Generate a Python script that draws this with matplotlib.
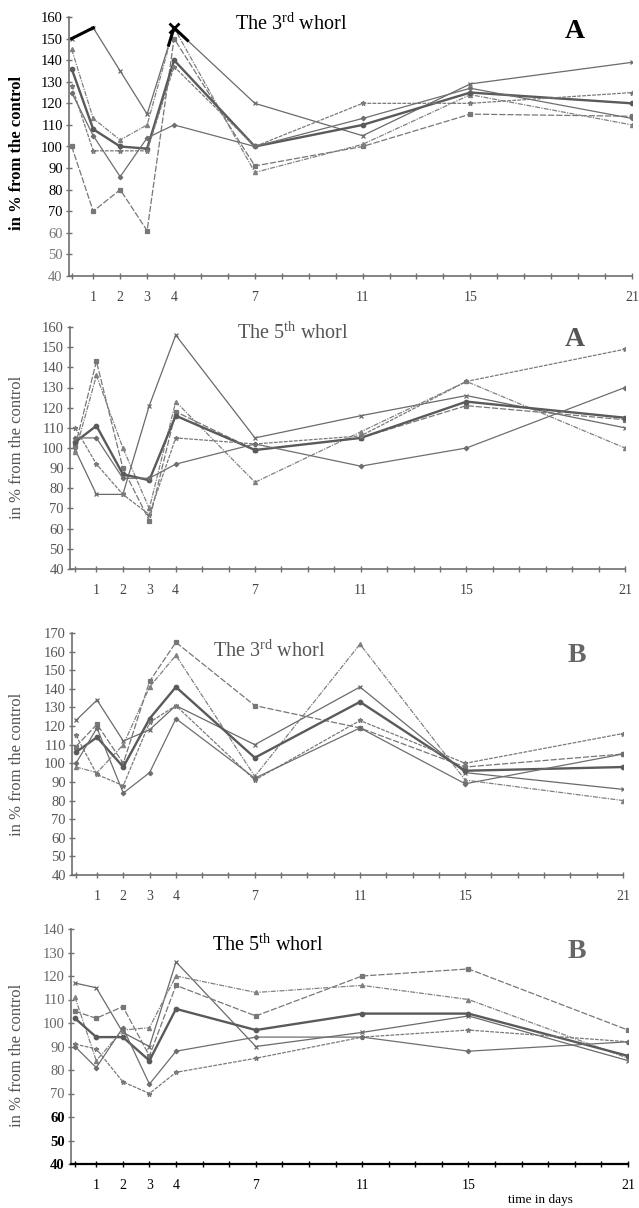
import numpy as np
import matplotlib
matplotlib.use("Agg")
import matplotlib.pyplot as plt
from matplotlib.ticker import FixedLocator, FixedFormatter

plt.rcParams['font.family'] = ['Liberation Serif', 'DejaVu Serif']
plt.rcParams['mathtext.fontset'] = 'custom'
plt.rcParams['mathtext.rm'] = 'Liberation Serif'

days = [0.2, 1, 2, 3, 4, 7, 11, 15, 21]
day_labels = [1, 2, 3, 4, 7, 11, 15, 21]

# panel A, 3rd whorl
a3_1 = [150, 155, 135, 115, 155, 120, 105, 129, 139]
a3_2 = [100, 70, 80, 61, 150, 91, 100, 115, 114]
a3_3 = [145, 113, 103, 110, 155, 88, 101, 124, 110]
a3_4 = [136, 108, 100, 99, 140, 100, 110, 125, 120]
a3_5 = [128, 98, 98, 98, 137, 100, 120, 120, 125]
a3_6 = [125, 105, 86, 104, 110, 100, 113, 127, 113]

# panel A, 5th whorl
a5_1 = [99, 77, 77, 121, 156, 105, 116, 126, 110]
a5_2 = [101, 143, 90, 64, 118, 99, 105, 121, 114]
a5_3 = [98, 136, 100, 70, 123, 83, 108, 133, 100]
a5_4 = [103, 111, 87, 84, 116, 99, 105, 123, 115]
a5_5 = [110, 92, 77, 67, 105, 102, 106, 133, 149]
a5_6 = [105, 105, 85, 85, 92, 102, 91, 100, 130]

# panel B, 3rd whorl
b3_1 = [123, 134, 112, 118, 131, 110, 141, 95, 86]
b3_2 = [109, 121, 100, 144, 165, 131, 119, 98, 105]
b3_3 = [98, 95, 110, 141, 158, 93, 164, 91, 80]
b3_4 = [106, 114, 98, 124, 141, 103, 133, 96, 98]
b3_5 = [115, 94, 88, 122, 131, 91, 123, 100, 116]
b3_6 = [100, 119, 84, 95, 124, 92, 119, 89, 105]

# panel B, 5th whorl
b5_1 = [117, 115, 96, 90, 126, 90, 96, 103, 84]
b5_2 = [105, 102, 107, 86, 116, 103, 120, 123, 97]
b5_3 = [111, 84, 97, 98, 120, 113, 116, 110, 85]
b5_4 = [102, 94, 94, 84, 106, 97, 104, 104, 86]
b5_5 = [91, 89, 75, 70, 79, 85, 94, 97, 92]
b5_6 = [90, 81, 98, 74, 88, 94, 94, 88, 92]

W, H = 639, 1208


def px_rect(left, top, right, bottom):
    return [left / W, 1 - bottom / H, (right - left) / W, (bottom - top) / H]


def fig_xy(x, y):
    return x / W, 1 - y / H


styles = [
    dict(marker='x', ls='-', lw=0.9, color='#6a6a6a', ms=3.5),
    dict(marker='s', ls=(0, (5, 1.5)), lw=0.9, color='#777777', ms=2.8),
    dict(marker='^', ls=(0, (4, 1, 1, 1)), lw=0.9, color='#808080', ms=3),
    dict(marker='o', ls='-', lw=1.7, color='#5a5a5a', ms=3.2),
    dict(marker='*', ls=(0, (3, 1)), lw=0.9, color='#7a7a7a', ms=3.5),
    dict(marker='D', ls='-', lw=0.9, color='#6e6e6e', ms=2.3),
]

panels = [
    dict(series=[a3_1, a3_2, a3_3, a3_4, a3_5, a3_6], rect=(69, 17, 632, 276),
         xlim=(0.1, 21), ylim=(40, 160), title="The 3$^{\\mathrm{rd}}$ whorl",
         title_xy=(235, 24), title_col='black', letter='A', letter_xy=(575, 32),
         letter_col='black', ylab_y=153, ylab_col='black'),
    dict(series=[a5_1, a5_2, a5_3, a5_4, a5_5, a5_6], rect=(70, 327, 625, 569),
         xlim=(0.0, 21), ylim=(40, 160), title="The 5$^{\\mathrm{th}}$ whorl",
         title_xy=(237, 333), title_col='#555555', letter='A', letter_xy=(575, 340),
         letter_col='#555555', ylab_y=447, ylab_col='#555555'),
    dict(series=[b3_1, b3_2, b3_3, b3_4, b3_5, b3_6], rect=(72, 633, 623, 875),
         xlim=(0.05, 21), ylim=(40, 170), title="The 3$^{\\mathrm{rd}}$ whorl",
         title_xy=(213, 651), title_col='#555555', letter='B', letter_xy=(577, 656),
         letter_col='#666666', ylab_y=764, ylab_col='#555555'),
    dict(series=[b5_1, b5_2, b5_3, b5_4, b5_5, b5_6], rect=(71, 929, 628, 1164),
         xlim=(0.05, 21), ylim=(40, 140), title="The 5$^{\\mathrm{th}}$ whorl",
         title_xy=(212, 945), title_col='black', letter='B', letter_xy=(577, 952),
         letter_col='#666666', ylab_y=1055, ylab_col='#555555'),
]

fig = plt.figure(figsize=(W / 100, H / 100), dpi=100)

for i, p in enumerate(panels):
    ax = fig.add_axes(px_rect(*p['rect']))
    for s, st in zip(p['series'], styles):
        ax.plot(days, s, markeredgewidth=0.9, **st)

    if i == 0:
        # dark overprint at the clipped peaks
        first = p['series'][0]
        ax.plot(days[:2], first[:2], color='black', lw=2.2)
        xs = np.linspace(3.8, 4.5, 10)
        ax.plot(xs, np.interp(xs, days, first), color='black', lw=2.2)
        ax.plot(days[4], first[4], marker='x', color='black', ms=7, mew=2)

    ax.set_xlim(*p['xlim'])
    ax.set_ylim(*p['ylim'])
    for side in ['top', 'right']:
        ax.spines[side].set_visible(False)
    spine_col = 'black' if i == 3 else '#707070'
    ax.spines['bottom'].set_color(spine_col)
    ax.spines['left'].set_color('#707070')
    ax.spines['bottom'].set_linewidth(1.6 if i == 3 else 1.2)
    ax.spines['left'].set_linewidth(1.2)

    xt = [days[0]] + list(range(1, 22))
    xl = [str(t) if t in day_labels else '' for t in xt]
    xl[0] = ''
    ax.xaxis.set_major_locator(FixedLocator(xt))
    ax.xaxis.set_major_formatter(FixedFormatter(xl))
    ax.tick_params(axis='x', direction='inout', length=5, width=1.0,
                   color=spine_col, labelsize=10, pad=8,
                   labelcolor='black' if i == 3 else '#444444')
    yt = list(range(p['ylim'][0], p['ylim'][1] + 1, 10))
    ax.set_yticks(yt)
    ax.tick_params(axis='y', direction='inout', length=5, width=1.0,
                   color='#707070', labelsize=10.5, pad=2)
    for lab, v in zip(ax.get_yticklabels(), yt):
        if i == 0:
            lab.set_color('black' if v >= 70 else '#777777')
        elif i == 3:
            lab.set_color('black' if v <= 60 else '#666666')
            if v <= 60:
                lab.set_fontweight('bold')
        else:
            lab.set_color('#555555')
    ax.patch.set_alpha(0)

    tx, ty = fig_xy(*p['title_xy'])
    fig.text(tx, ty, p['title'], fontsize=14.5, color=p['title_col'],
             ha='left', va='center')
    lx, ly = fig_xy(*p['letter_xy'])
    fig.text(lx, ly, p['letter'], fontsize=20, fontweight='bold',
             color=p['letter_col'], ha='center', va='center')
    yx, yy = fig_xy(17, p['ylab_y'])
    fig.text(yx, yy, "in % from the control", rotation=90, fontsize=12,
             color=p['ylab_col'], ha='center', va='center',
             fontweight='bold' if i == 0 else 'normal')

tx, ty = fig_xy(540, 1200)
fig.text(tx, ty, "time in days", fontsize=9.5, ha='center', va='center')

fig.savefig("out.png", dpi=100)
